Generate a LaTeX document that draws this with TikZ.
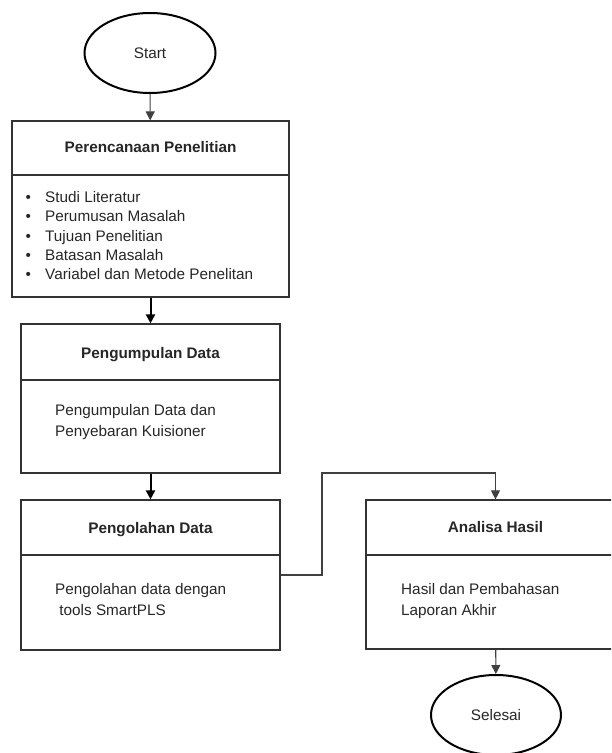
\documentclass[tikz,border=0pt]{standalone}
\usepackage{fontspec}
\setmainfont{Liberation Sans}
\usepackage{tikz}
\usetikzlibrary{arrows.meta, positioning, shapes.geometric}

\begin{document}
\begin{tikzpicture}[
    x=1pt, y=-1pt,
    every node/.style={font=\fontsize{15.3}{19}\selectfont, text=black!85},
    terminal/.style={ellipse, draw=black, line width=2pt, minimum width=131pt, minimum height=80pt, inner sep=0pt},
    stepbox/.style={rectangle, draw=black!80, line width=1.2pt, minimum width=259pt, inner sep=0pt},
    title/.style={anchor=base, inner sep=0pt, font=\fontsize{15.3}{19}\selectfont\bfseries},
    body/.style={anchor=north west, inner sep=0pt, align=left, font=\fontsize{15.3}{20.5}\selectfont},
    divider/.style={draw=black!80, line width=1.2pt},
    arrow/.style={-{Triangle[length=9pt, width=9pt]}, draw=black!75, line width=1.1pt},
    bigarrow/.style={-{Triangle[length=9pt, width=9pt]}, draw=black, line width=2pt}
  ]

  \clip (0,0) rectangle (611,753);

  \node[terminal] (start) at (150,53) {Start};

  \node[stepbox, minimum width=277pt, minimum height=176pt] (plan) at (150.5,209) {};
  \node[title] (plantitle) at (150.5,152.5) {Perencanaan Penelitian};
  \draw[divider] (plan.west |- 0,175) -- (plan.east |- 0,175);
  \node[body, font=\fontsize{15.3}{19.2}\selectfont] (planlist) at (25.5,191.5) {%
    \makebox[19.5pt][l]{\textbullet}Studi Literatur\\
    \makebox[19.5pt][l]{\textbullet}Perumusan Masalah\\
    \makebox[19.5pt][l]{\textbullet}Tujuan Penelitian\\
    \makebox[19.5pt][l]{\textbullet}Batasan Masalah\\
    \makebox[19.5pt][l]{\textbullet}Variabel dan Metode Penelitan};

  \node[stepbox, minimum height=149pt] (kumpul) at (150.5,398.5) {};
  \node[title] (kumpultitle) at (150.5,358.5) {Pengumpulan Data};
  \draw[divider] (kumpul.west |- 0,380) -- (kumpul.east |- 0,380);
  \node[body] (kumpultext) at (55,404.5) {Pengumpulan Data dan\\Penyebaran Kuisioner};

  \node[stepbox, minimum height=150pt] (olah) at (150.5,575) {};
  \node[title] (olahtitle) at (150.5,533.5) {Pengolahan Data};
  \draw[divider] (olah.west |- 0,555) -- (olah.east |- 0,555);
  \node[body] (olahtext) at (55,583.5) {Pengolahan data dengan\\\hspace*{4.25pt}tools SmartPLS};

  \node[stepbox, minimum height=149pt] (analisa) at (495.5,574.5) {};
  \node[title] (analisatitle) at (495.5,532.5) {Analisa Hasil};
  \draw[divider] (analisa.west |- 0,555) -- (analisa.east |- 0,555);
  \node[body] (analisatext) at (401,583.5) {Hasil dan Pembahasan\\Laporan Akhir};

  \node[terminal, minimum width=130pt] (selesai) at (496,715) {Selesai};

  \coordinate (bend) at (322,473);

  \draw[arrow] (start) -- (plan);
  \draw[bigarrow] (plan) -- (kumpul);
  \draw[bigarrow] (kumpul) -- (olah);
  \draw[arrow] (olah.east) -| (bend) -| (analisa.north);
  \draw[arrow] (analisa) -- (selesai);

\end{tikzpicture}
\end{document}
